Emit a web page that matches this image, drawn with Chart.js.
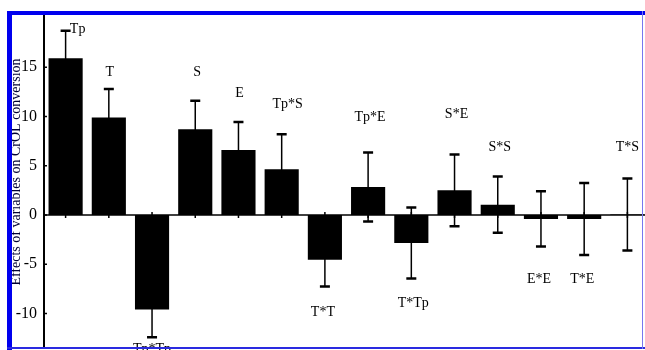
<!DOCTYPE html>
<html>
<head>
<meta charset="utf-8">
<script src="https://cdn.jsdelivr.net/npm/chart.js@4"></script>
<style>
  body { margin: 0; background: #fff; }
  #wrap { width: 645px; height: 350px; overflow: hidden; }
</style>
</head>
<body>
<div id="wrap"><canvas id="effectsChart" width="660" height="350"></canvas></div>
<script>
// effects of the variables
const factors = ['Tp', 'T', 'Tp*Tp', 'S', 'E', 'Tp*S', 'T*T', 'Tp*E', 'T*Tp', 'S*E', 'S*S', 'E*E', 'T*E', 'T*S'];
const effects = [15.9, 9.9, -9.6, 8.7, 6.6, 4.65, -4.55, 2.85, -2.85, 2.5, 1.05, -0.4, -0.4, 0.05];
const errors = [2.8, 2.9, 2.8, 2.9, 2.85, 3.55, 2.7, 3.5, 3.6, 3.65, 2.85, 2.8, 3.65, 3.65];
const yTicks = [-10, -5, 0, 5, 10, 15];

// where each factor name sits (value units) and a sideways nudge in px
const labelAt = [18.8, 14.5, -13.6, 14.5, 12.3, 11.2, -9.9, 9.9, -9.0, 10.2, 6.9, -6.5, -6.5, 6.9];
const labelNudge = [12, 1, 0, 2, 1, 6, -2, 2, 2, 2, 2, -2, -2, 0];

const serif = '"Liberation Serif", "DejaVu Serif", serif';

const overlay = {
    id: 'overlay',
    afterDatasetsDraw(chart) {
        const ctx = chart.ctx;
        const x = chart.scales.x;
        const y = chart.scales.y;
        const area = chart.chartArea;
        const y0 = y.getPixelForValue(0);
        ctx.save();
        ctx.strokeStyle = '#000';

        // zero line
        ctx.lineWidth = 1.5;
        ctx.beginPath();
        ctx.moveTo(area.left, y0);
        ctx.lineTo(area.right, y0);
        ctx.stroke();

        // small ticks on both axes
        ctx.lineWidth = 1.5;
        ctx.beginPath();
        factors.forEach((f, i) => {
            const cx = x.getPixelForValue(i);
            ctx.moveTo(cx, y0 - 3);
            ctx.lineTo(cx, y0 + 3);
        });
        yTicks.forEach(v => {
            const py = y.getPixelForValue(v);
            ctx.moveTo(area.left, py);
            ctx.lineTo(area.left + 3, py);
        });
        ctx.stroke();

        // error bars
        effects.forEach((v, i) => {
            const cx = x.getPixelForValue(i);
            const top = y.getPixelForValue(v + errors[i]);
            const bot = y.getPixelForValue(v - errors[i]);
            ctx.lineWidth = 1.5;
            ctx.beginPath();
            ctx.moveTo(cx, top);
            ctx.lineTo(cx, bot);
            ctx.stroke();
            ctx.lineWidth = 2.5;
            ctx.beginPath();
            ctx.moveTo(cx - 5, top);
            ctx.lineTo(cx + 5, top);
            ctx.moveTo(cx - 5, bot);
            ctx.lineTo(cx + 5, bot);
            ctx.stroke();
        });

        // factor names
        ctx.fillStyle = '#000';
        ctx.font = '14px ' + serif;
        ctx.textAlign = 'center';
        ctx.textBaseline = 'middle';
        factors.forEach((f, i) => {
            ctx.fillText(f, x.getPixelForValue(i) + labelNudge[i], y.getPixelForValue(labelAt[i]));
        });
        ctx.restore();
    },
    afterDraw(chart) {
        const ctx = chart.ctx;
        ctx.save();
        // rotated axis title
        ctx.translate(20, 172);
        ctx.rotate(-Math.PI / 2);
        ctx.fillStyle = '#000033';
        ctx.font = '14px ' + serif;
        ctx.textAlign = 'center';
        ctx.textBaseline = 'alphabetic';
        ctx.fillText('Effects of variables on CrOL conversion', 0, 0);
        ctx.restore();

        // blue frame
        ctx.save();
        ctx.fillStyle = '#0000ee';
        ctx.fillRect(7, 11, 640, 4);
        ctx.fillRect(7, 11, 5, 339);
        ctx.fillStyle = '#2a2ae0';
        ctx.fillRect(7, 347, 640, 2);
        ctx.fillStyle = '#7777ee';
        ctx.fillRect(642, 11, 1, 338);
        ctx.restore();
    }
};

new Chart(document.getElementById('effectsChart'), {
    type: 'bar',
    data: {
        labels: factors,
        datasets: [{
            data: effects,
            backgroundColor: '#000',
            borderWidth: 0,
            barPercentage: 0.79,
            categoryPercentage: 1
        }]
    },
    options: {
        responsive: false,
        animation: false,
        layout: { padding: { top: 16, bottom: 2, right: 11, left: 0 } },
        plugins: { legend: { display: false }, tooltip: { enabled: false } },
        scales: {
            x: { display: false },
            y: {
                min: -13.5,
                max: 20.2,
                afterBuildTicks: s => { s.ticks = yTicks.map(v => ({ value: v })); },
                afterFit: s => {
                    s.width = 44;
                    s.paddingTop = 0;
                    s.paddingBottom = 0;
                },
                border: { display: true, color: '#000', width: 2 },
                grid: { display: false, drawTicks: false },
                ticks: {
                    padding: 7,
                    color: '#000',
                    font: { family: serif, size: 16 }
                }
            }
        }
    },
    plugins: [overlay]
});
</script>
</body>
</html>
